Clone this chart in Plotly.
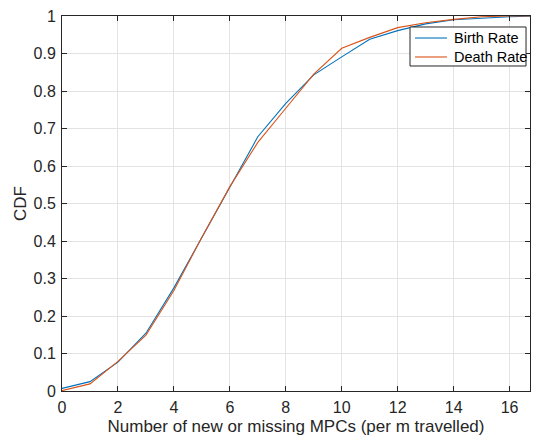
import plotly.graph_objects as go

x_vals = list(range(0, 18))
birth_rate = [0.007, 0.025, 0.077, 0.154, 0.275, 0.408, 0.545, 0.678, 0.767, 0.843,
              0.891, 0.938, 0.961, 0.979, 0.990, 0.995, 0.998, 1.0]
death_rate = [0.001, 0.019, 0.079, 0.149, 0.268, 0.410, 0.545, 0.663, 0.754, 0.845,
              0.914, 0.943, 0.969, 0.982, 0.991, 0.998, 1.0, 1.0]
x_ticks = [0, 2, 4, 6, 8, 10, 12, 14, 16]
y_ticks = [0, 0.1, 0.2, 0.3, 0.4, 0.5, 0.6, 0.7, 0.8, 0.9, 1]
y_tick_text = ["0", "0.1", "0.2", "0.3", "0.4", "0.5", "0.6", "0.7", "0.8", "0.9", "1"]
series_names = ["Birth Rate", "Death Rate"]
series_colors = ["#0072BD", "#D95319"]

fig = go.Figure()
for name, vals, col in zip(series_names, [birth_rate, death_rate], series_colors):
    fig.add_trace(go.Scatter(x=x_vals, y=vals, mode="lines", name=name,
                             line=dict(color=col, width=1.1), showlegend=False))

axis_common = dict(
    showline=True, linecolor="#262626", linewidth=1, mirror="ticks",
    ticks="inside", ticklen=5, tickcolor="#262626",
    showgrid=True, gridcolor="#e3e3e3", gridwidth=1, zeroline=False,
    tickfont=dict(family="Liberation Sans, Arial, sans-serif", size=16, color="#262626"),
)

# Legend box drawn in paper coordinates (MATLAB-style compact legend)
lx0, lx1, ly0, ly1 = 0.7436, 0.9915, 0.8667, 0.9707
shapes = [dict(type="rect", xref="paper", yref="paper", x0=lx0, x1=lx1, y0=ly0, y1=ly1,
               line=dict(color="#262626", width=1), fillcolor="white", layer="above")]
annotations = []
row_y = [0.9413, 0.8907]
for name, col, yy in zip(series_names, series_colors, row_y):
    shapes.append(dict(type="line", xref="paper", yref="paper", x0=0.7543, x1=0.8226,
                       y0=yy, y1=yy, line=dict(color=col, width=1.1), layer="above"))
    annotations.append(dict(xref="paper", yref="paper", x=0.8333, y=yy, xanchor="left",
                            yanchor="middle", text=name, showarrow=False,
                            font=dict(size=14.5, color="#000000")))

fig.update_layout(
    width=533, height=440,
    margin=dict(l=62, r=3, t=16, b=49),
    plot_bgcolor="white", paper_bgcolor="white",
    font=dict(family="Liberation Sans, Arial, sans-serif", color="#262626"),
    xaxis=dict(range=[0, 16.73], tickvals=x_ticks, ticklabelstandoff=2,
               title=dict(text="Number of new or missing MPCs (per m travelled)",
                          font=dict(size=17, color="#262626"), standoff=4),
               **axis_common),
    yaxis=dict(range=[0, 1], tickvals=y_ticks, ticktext=y_tick_text, ticklabelstandoff=2,
               title=dict(text="CDF", font=dict(size=17, color="#262626"), standoff=2),
               **axis_common),
    shapes=shapes,
    annotations=annotations,
    showlegend=False,
)

fig.write_html("out.html")
